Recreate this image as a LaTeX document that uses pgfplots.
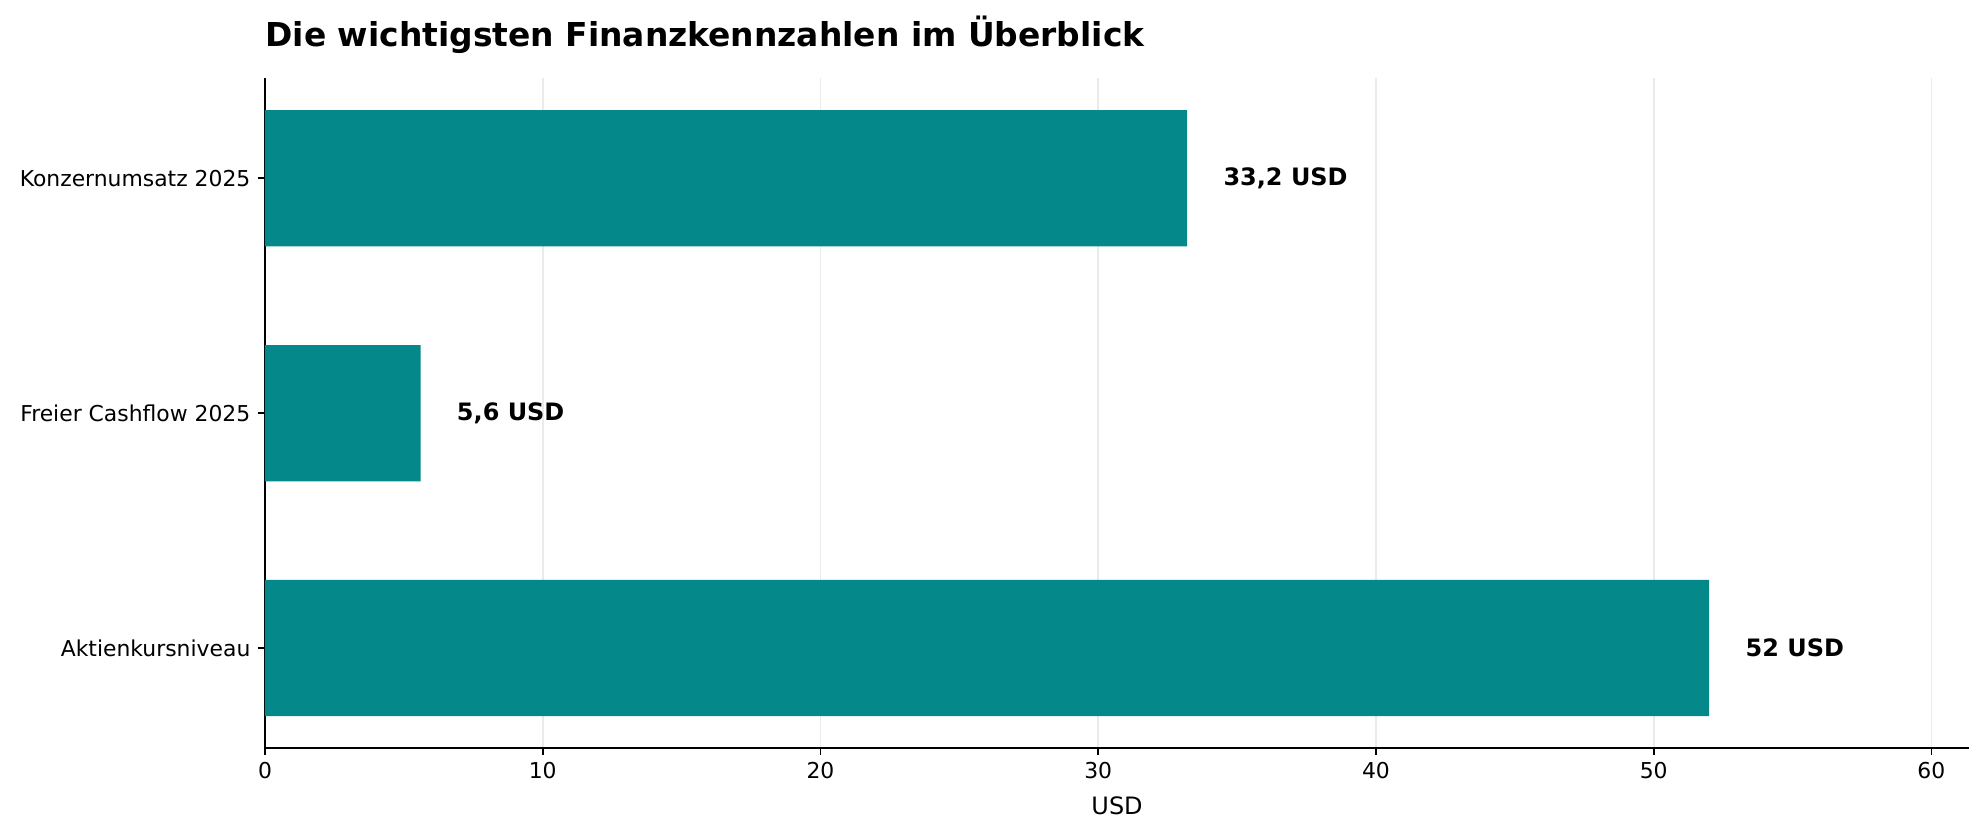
\documentclass[border=0pt]{standalone}
\usepackage{pgfplots}
\pgfplotsset{compat=1.18}
\usepackage{fontspec}
\setmainfont{DejaVu Sans}
\definecolor{barc}{RGB}{4,136,138}
\definecolor{gridc}{RGB}{235,235,235}
\begin{document}
\begin{tikzpicture}
\begin{axis}[
  name=ax, at={(0,0)}, anchor=south west,
  width=818pt, height=321.6pt, scale only axis,
  xmin=0, xmax=61.36, ymin=-0.425, ymax=2.427,
  xbar, bar width=0.58,
  axis x line*=bottom, axis y line*=left,
  axis line style={line width=0.8pt, black},
  tick align=outside, major tick length=3.5pt,
  tick style={black, line width=0.8pt},
  xtick={0,10,20,30,40,50,60},
  ytick={0,1,2},
  yticklabels={Aktienkursniveau, Freier Cashflow 2025, Konzernumsatz 2025},
  xmajorgrids, grid style={gridc, line width=0.8pt},
  tick label style={font=\fontsize{10.5}{12.5}\selectfont},
  /pgf/number format/assume math mode=true,
  xlabel={USD},
  xlabel style={at={(axis description cs:0.5,0)}, anchor=center, yshift=-27.8pt, font=\fontsize{11.5}{13.5}\selectfont},
  nodes near coords,
  point meta=explicit symbolic,
  every node near coord/.style={anchor=west, inner sep=0pt, xshift=17.3pt, font=\fontsize{11.5}{13.5}\bfseries\selectfont, black},
]
\addplot[fill=barc, draw=none] coordinates {
  (52,0) [52 USD]
  (5.6,1) [{5,6 USD}]
  (33.2,2) [{33,2 USD}]
};
\end{axis}
\node[anchor=base west, inner sep=0pt, font=\fontsize{15.8}{19}\bfseries\selectfont] at ([yshift=15pt]ax.north west) {Die wichtigsten Finanzkennzahlen im Überblick};
\useasboundingbox ([xshift=-127.2pt,yshift=-43.2pt]ax.south west) rectangle ++(952.8pt,402.2pt);
\end{tikzpicture}
\end{document}
